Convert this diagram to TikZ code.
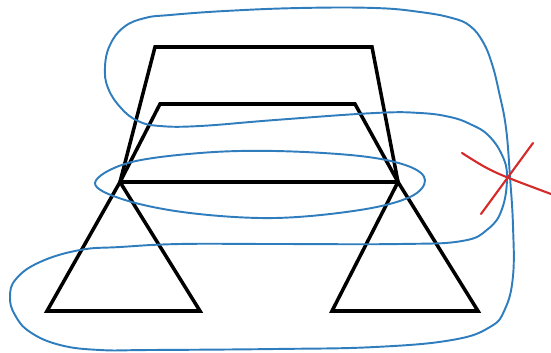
\documentclass[tikz,border=0pt]{standalone}
\usetikzlibrary{calc}
\definecolor{loopBlue}{HTML}{2F7DBD}
\definecolor{crossRed}{HTML}{D42A2A}

\begin{document}
\begin{tikzpicture}[
  x=0.02cm,y=-0.02cm,
  frame/.style={draw=black,line width=2pt,line join=miter},
  loopline/.style={draw=loopBlue,line width=1.1pt},
  crossline/.style={draw=crossRed,line width=1.2pt,line cap=round}
]
\useasboundingbox (0,0) rectangle (551,352);

% corners of the black figure
\coordinate (otl) at (155,47);
\coordinate (otr) at (372,47);
\coordinate (itl) at (160,104);
\coordinate (itr) at (355,104);
\coordinate (lapex) at (120,182);
\coordinate (rapex) at (398,182);
\coordinate (lbl) at (47,311);
\coordinate (lbr) at (200,311);
\coordinate (rbl) at (332,311);
\coordinate (rbr) at (478,311);

% two trapezoids over the bar
\draw[frame] (lapex) -- (otl) -- (otr) -- (rapex);
\draw[frame] (lapex) -- (itl) -- (itr) -- (rapex);
\draw[frame] (lapex) -- (rapex);

% the two feet
\draw[frame] (lapex) -- (lbl) -- (lbr) -- cycle;
\draw[frame] (rapex) -- (rbl) -- (rbr) -- cycle;

% flat loop round the bar
\draw[loopline] plot[smooth cycle,tension=0.6] coordinates {
  (95,183) (128,163) (200,153) (275,151) (360,156) (408,166) (425,180)
  (410,197) (360,210) (275,218) (190,213) (125,200)};

% the long closed curve
\draw[loopline] plot[smooth cycle,tension=0.7] coordinates {
  (170,15) (225,11) (300,8) (375,8) (420,12) (452,18) (470,26) (483,42)
  (492,64) (499,92) (506,128) (510,177) (513,226) (513,276) (505,309)
  (490,327) (452,340) (375,347) (275,349) (150,350) (100,350) (60,345)
  (30,332) (15,315) (10,297) (16,279) (40,262) (80,250) (120,247)
  (180,244) (275,244) (400,244) (462,241) (488,229) (502,209) (507,177)
  (502,155) (488,135) (470,124) (450,117) (420,113) (375,113) (275,120)
  (200,126) (160,126) (138,121) (121,108) (108,88) (105,67) (110,45)
  (124,27) (145,18)};

% red cross
\coordinate (xa) at (462,153);
\coordinate (xb) at (551,194);
\coordinate (xc) at (533,143);
\coordinate (xd) at (481,214);
\draw[crossline] (xa) .. controls (492,172) .. (xb);
\draw[crossline] (xc) -- (xd);
\end{tikzpicture}
\end{document}
